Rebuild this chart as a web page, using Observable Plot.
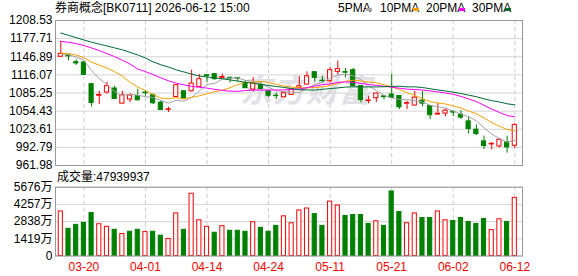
<!DOCTYPE html>
<html><head><meta charset="utf-8">
<script src="https://cdn.jsdelivr.net/npm/d3@7"></script>
<script src="https://cdn.jsdelivr.net/npm/@observablehq/plot@0.6"></script>
<style>
body{margin:0;background:#fff;}
#wrap{position:relative;width:578px;height:276px;overflow:hidden;font-family:"Liberation Sans","Noto Sans CJK SC",sans-serif;}
.t{position:absolute;white-space:nowrap;font-size:12px;line-height:13px;color:#000;}
.sw{position:absolute;width:6px;height:3px;}
#wm{position:absolute;left:240px;top:70px;font-size:32px;line-height:36px;font-weight:bold;font-style:italic;color:#e2e2e6;letter-spacing:1px;font-family:"Noto Sans CJK SC",sans-serif;}
</style></head>
<body><div id="wrap">
<div id="wm">东方财富</div>
</div>
<script>
const dates = ["03-17","03-18","03-19","03-20","03-23","03-24","03-25","03-26","03-27","03-30","03-31","04-01","04-02","04-03","04-07","04-08","04-09","04-10","04-13","04-14","04-15","04-16","04-17","04-20","04-21","04-22","04-23","04-24","04-27","04-28","04-29","04-30","05-06","05-07","05-08","05-11","05-12","05-13","05-14","05-15","05-18","05-19","05-20","05-21","05-22","05-25","05-26","05-27","05-28","05-29","06-01","06-02","06-03","06-04","06-05","06-08","06-09","06-10","06-11","06-12"];
const labelDates = ["03-20","04-01","04-14","04-24","05-11","05-21","06-02","06-12"];

const open = [1146.8,1149.2,1137.7,1137.2,1100.2,1080.5,1086,1092.9,1067.2,1074.1,
  1080.2,1086,1081.4,1068.9,1056.5,1078.5,1088.2,1088.2,1095.6,1115.5,
  1117.3,1111,1111,1110.5,1101.9,1091.1,1099,1088.2,1080.8,1078,
  1082,1094,1099.6,1120.7,1106.3,1105.3,1121.2,1120.8,1124.1,1097.3,
  1071.5,1076.3,1079.5,1082.6,1080.2,1067,1063.9,1072.3,1063.2,1048.5,
  1050.2,1053,1048.5,1037,1023,1003,997.8,994.4,1001.3,995.6];
const close = [1151.9,1147.5,1135.5,1116,1068.3,1082,1096.8,1075.1,1081.4,1081,
  1072.9,1085,1067.8,1056.3,1057.5,1098.5,1075.8,1101.4,1108.7,1114,
  1108.7,1112.5,1110,1109.5,1093.4,1101.4,1091.7,1080.5,1079.8,1084.8,
  1091,1096.8,1113.7,1111,1105.5,1124.1,1125.8,1119.8,1097.3,1072.9,
  1072.5,1084.3,1078.3,1076.8,1060.9,1068,1077.5,1067.2,1047.4,1050,
  1055.3,1052,1043.4,1024,1015.4,995,998.8,1005.8,992.7,1030.7];
const high = [1173,1150.5,1141.6,1139,1101.4,1088.2,1103.6,1096.8,1088.2,1083.6,
  1091.7,1089.5,1083.6,1071.7,1061,1099,1089.5,1124,1116.7,1116.7,
  1118.5,1117.3,1112.7,1112,1106,1111.6,1103,1088.5,1085.5,1087,
  1092,1113.7,1121.2,1121,1113.7,1128.7,1139.4,1127,1127,1097.5,
  1079.7,1085,1081.4,1117.3,1081,1071.2,1088.2,1088,1064,1067.3,
  1057.5,1055.5,1055.3,1044.4,1031,1012,1001,1007,1012,1033.2];
const low = [1146.8,1140,1132.1,1115.5,1061.5,1065.6,1083.6,1074,1066.5,1069,
  1071.7,1079.7,1065.6,1055.5,1052,1078,1074,1087,1095,1102.5,
  1107,1110.5,1102.4,1104,1093,1087.1,1091,1077.5,1074,1077.5,
  1081,1093.5,1099,1104.1,1102.4,1102.4,1116,1111,1097,1068.3,
  1066.6,1069,1073.4,1076,1057,1057,1063.5,1061.5,1040,1048,
  1045,1045,1040,1015.4,1013,989,988.5,992,983,991];

const ma5 = [1151.9,1150.2,1146.3,1141.1,1123.4,1109.6,1099.6,1087.5,1080.7,1083.3,
  1081.4,1079.1,1077.6,1072.6,1067.9,1073.0,1071.2,1077.9,1088.4,1099.7,
  1101.7,1109.0,1110.7,1110.8,1106.7,1105.3,1101.2,1095.1,1089.2,1087.5,
  1085.4,1086.5,1093.3,1099.5,1103.6,1110.2,1116.0,1117.2,1114.5,1108.0,
  1097.7,1089.4,1081.1,1077.0,1074.6,1073.7,1072.3,1070.1,1064.2,1062.0,
  1059.5,1054.4,1049.6,1044.9,1038.0,1026.0,1015.3,1007.8,1001.5,1004.6];
const ma10 = [1153.1,1152.2,1149.7,1145.4,1137.7,1132.6,1127.5,1121.5,1113.9,1103.4,
  1095.5,1089.4,1082.6,1076.7,1075.6,1077.2,1075.2,1077.8,1080.5,1083.8,
  1087.4,1090.1,1094.3,1099.6,1103.2,1103.5,1105.1,1102.9,1100.0,1097.1,
  1095.4,1093.9,1094.2,1094.4,1095.6,1097.8,1101.3,1105.3,1107.0,1105.8,
  1104.0,1102.7,1099.2,1095.8,1091.3,1085.7,1080.9,1075.6,1070.6,1068.3,
  1066.6,1063.4,1059.9,1054.6,1050.0,1042.8,1034.9,1028.7,1023.2,1021.3];
const ma20 = [1173.0,1171.5,1169.3,1165.9,1161.9,1157.4,1152.2,1147.1,1141.1,1134.4,
  1126.0,1121.5,1116.5,1111.0,1106.0,1102.0,1099.0,1096.5,1095.0,1093.6,
  1091.4,1089.7,1088.4,1088.1,1089.4,1090.4,1090.1,1090.3,1090.3,1090.5,
  1091.4,1092.0,1094.3,1097.0,1099.4,1100.7,1103.2,1104.1,1103.5,1101.5,
  1099.7,1098.3,1096.7,1095.1,1093.4,1091.8,1091.1,1090.4,1088.8,1087.1,
  1085.3,1083.0,1079.5,1075.2,1070.7,1064.2,1057.9,1052.2,1046.9,1044.8];
const ma30 = [1187.2,1183.3,1179.4,1175.4,1171.7,1168.4,1165.2,1161.9,1158.7,1154.4,
  1150.0,1144.7,1138.1,1133.3,1129.4,1124.5,1121.0,1117.5,1114.0,1112.5,
  1111.0,1109.5,1107.5,1105.5,1103.5,1101.8,1100.0,1098.0,1096.3,1094.8,
  1092.7,1091.1,1090.4,1090.2,1091.5,1092.8,1093.9,1095.3,1095.8,1095.6,
  1095.6,1095.6,1095.9,1096.6,1096.7,1095.7,1095.7,1094.6,1092.5,1090.4,
  1088.7,1086.6,1084.4,1081.6,1079.0,1075.4,1072.3,1069.9,1066.9,1065.1];

// volume in 万
const volume = [3676,2243,2568,2730,3541,2622,2406,2162,1811,2000,
  2162,1973,2000,1676,1406,3514,2162,5136,2946,2406,
  1919,2460,2081,2081,2000,2784,2325,2000,2487,3271,
  2703,3757,3919,3460,2487,4487,4163,3298,3379,3379,
  2649,2865,2487,5325,3622,2703,3514,3135,3135,3676,
  2946,2892,3135,2811,2649,3054,2135,3027,2811,4794];
// 1 = red (up), 0 = green (down) volume bar
const volUp = [1,0,0,0,0,1,1,0,1,0, 0,1,0,0,1,1,0,1,1,1, 0,1,0,0,0,1,0,0,0,1,
  1,1,1,0,0,1,1,0,0,0, 0,1,0,0,0,1,1,0,0,1, 1,0,0,0,0,0,1,1,0,1];

const priceTicks = [961.98, 992.79, 1023.61, 1054.43, 1085.25, 1116.07, 1146.89, 1177.71, 1208.53];
const volTicks = [0, 1419, 2838, 4257, 5676];
const maNames = ["5PMA","10PMA","20PMA","30PMA"];
const maColors = ["#a3a3a3","#f5a300","#ff00ff","#006b33"];
const volumeText = "成交量:47939937";
const titleText = "券商概念[BK0711] 2026-06-12 15:00";

const RED = "#ff0000", GREEN = "#008000";
const idx = d3.range(dates.length);
const candles = idx.map(i => ({i, o: open[i], h: high[i], l: low[i], c: close[i], up: close[i] >= open[i]}));
const vols = idx.map(i => ({i, v: volume[i], up: volUp[i] === 1}));
const xTicks = labelDates.map(d => dates.indexOf(d));
const mas = [ma5, ma10, ma20, ma30];

const W = 578, ML = 55, MR = 56;
const xOpt = {type: "linear", domain: [-0.69, 60.0]};
const HW = 0.27;
const font = "Liberation Sans, Noto Sans CJK SC, sans-serif";

const price = Plot.plot({
  width: W, height: 170, marginLeft: ML, marginRight: MR, marginTop: 20, marginBottom: 5,
  style: {position: "absolute", left: "0px", top: "0px", background: "transparent", fontFamily: font, fontSize: "12px", color: "#000", overflow: "visible"},
  x: {...xOpt, axis: null},
  y: {domain: [961.98, 1208.53]},
  color: {type: "identity"},
  marks: [
    Plot.ruleY(priceTicks, {stroke: "#d4d4d4"}),
    Plot.ruleX(xTicks, {stroke: "#cccccc", strokeDasharray: "4,3"}),
    Plot.axisY(priceTicks, {tickSize: 0, tickPadding: 3, tickFormat: d => d.toFixed(2), label: null, fill: "#000", fontSize: 12}),
    Plot.ruleX(candles, {x: "i", y1: "l", y2: "h", stroke: d => d.up ? RED : GREEN}),
    Plot.rect(candles, {x1: d => d.i - HW, x2: d => d.i + HW, y1: "o", y2: "c", fill: d => d.up ? "#ffffff" : GREEN, stroke: d => d.up ? RED : GREEN}),
    ...mas.map((m, k) => Plot.line(idx, {x: i => i, y: i => m[i], stroke: maColors[k], strokeWidth: 1})),
    Plot.frame({stroke: "#999"})
  ]
});

const volPlot = Plot.plot({
  width: W, height: 106, marginLeft: ML, marginRight: MR, marginTop: 16.7, marginBottom: 20.5,
  style: {position: "absolute", left: "0px", top: "170px", background: "transparent", fontFamily: font, fontSize: "12px", color: "#000", overflow: "visible"},
  x: {...xOpt},
  y: {domain: [0, 5676]},
  color: {type: "identity"},
  marks: [
    Plot.ruleY(volTicks, {stroke: "#d4d4d4"}),
    Plot.ruleX(xTicks, {stroke: "#cccccc", strokeDasharray: "4,3"}),
    Plot.axisY(volTicks, {tickSize: 0, tickPadding: 3, tickFormat: d => d === 0 ? "0" : d + "万", label: null, fill: "#000", fontSize: 12}),
    Plot.axisX(xTicks, {tickSize: 0, tickPadding: 6, tickFormat: i => dates[i], label: null, fill: RED, fontSize: 12}),
    Plot.rect(vols, {x1: d => d.i - HW, x2: d => d.i + HW, y1: 0, y2: "v", fill: d => d.up ? "#ffffff" : GREEN, stroke: d => d.up ? RED : GREEN}),
    Plot.frame({stroke: "#999"})
  ]
});

const wrap = document.getElementById("wrap");
wrap.appendChild(price);
wrap.appendChild(volPlot);

function addText(txt, left, top, extra) {
  const d = document.createElement("div");
  d.className = "t";
  d.textContent = txt;
  d.style.left = left + "px";
  d.style.top = top + "px";
  if (extra) Object.assign(d.style, extra);
  wrap.appendChild(d);
  return d;
}
addText(titleText, 55, 2);
addText(volumeText, 57, 171);
const legX = [338, 380, 426, 472];
const swX = [366, 413, 459, 505];
maNames.forEach((n, k) => {
  addText(n, legX[k], 2);
  const s = document.createElement("div");
  s.className = "sw";
  s.style.left = swX[k] + "px";
  s.style.top = "8px";
  s.style.background = maColors[k];
  wrap.appendChild(s);
});
</script>
</body></html>
